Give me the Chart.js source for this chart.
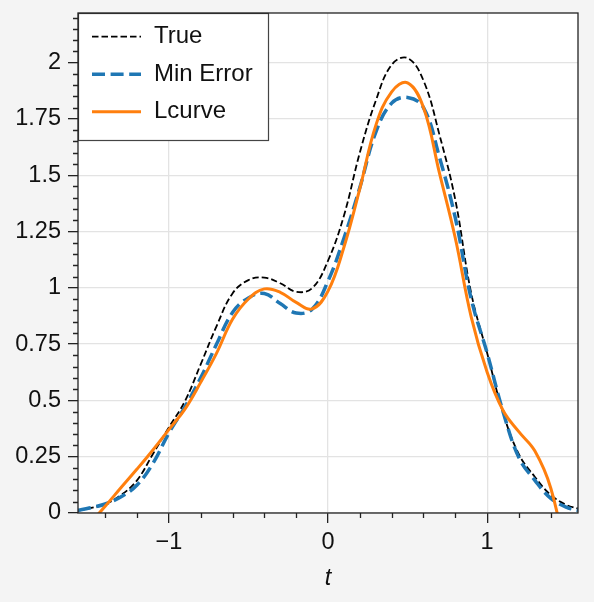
<!DOCTYPE html>
<html><head><meta charset="utf-8">
<script src="https://cdn.jsdelivr.net/npm/chart.js@4.4.1/dist/chart.umd.min.js"></script>
<style>html,body{margin:0;padding:0;background:#f4f4f4;overflow:hidden}</style>
</head><body>
<canvas id="c" width="594" height="602" style="display:block;width:594px;height:602px"></canvas>
<script>
// ---- data ----
const tValues       = [-1.5708, -1.5, -1.4, -1.3, -1.2, -1.1, -1.0, -0.9, -0.8, -0.7, -0.6, -0.5, -0.4, -0.3, -0.2, -0.1, 0.0, 0.1, 0.2, 0.3, 0.4, 0.5, 0.6, 0.7, 0.8, 0.9, 1.0, 1.1, 1.2, 1.3, 1.4, 1.5, 1.5708];
const trueValues    = [0.01, 0.02, 0.04, 0.08, 0.145, 0.262, 0.38, 0.495, 0.66, 0.83, 0.975, 1.034, 1.045, 1.02, 0.982, 0.998, 1.12, 1.32, 1.6, 1.83, 1.99, 2.02, 1.92, 1.68, 1.39, 0.975, 0.71, 0.445, 0.26, 0.16, 0.08, 0.035, 0.02];
const minErrValues  = [0.012, 0.022, 0.04, 0.072, 0.124, 0.22, 0.355, 0.47, 0.6, 0.75, 0.89, 0.955, 0.975, 0.93, 0.888, 0.905, 1.03, 1.22, 1.445, 1.69, 1.82, 1.845, 1.8, 1.58, 1.31, 0.95, 0.71, 0.45, 0.245, 0.145, 0.065, 0.025, 0.012];
const lcurveValues  = [-0.11, -0.05, 0.03, 0.113, 0.195, 0.28, 0.37, 0.46, 0.58, 0.71, 0.86, 0.95, 0.995, 0.98, 0.935, 0.906, 0.985, 1.18, 1.44, 1.72, 1.87, 1.91, 1.8, 1.51, 1.22, 0.87, 0.625, 0.455, 0.36, 0.275, 0.11, -0.2, -0.4];
const seriesLabels  = ['True', 'Min Error', 'Lcurve'];
const xTickValues   = [-1, 0, 1];
const yTickValues   = [0, 0.25, 0.5, 0.75, 1, 1.25, 1.5, 1.75, 2];
const xMinorTicks   = [-1.4, -1.2, -0.8, -0.6, -0.4, -0.2, 0.2, 0.4, 0.6, 0.8, 1.2, 1.4];
const yMinorStep    = 0.05;

const FONT = 'Liberation Sans, Arial, Helvetica, sans-serif';
const FS = 23.5;

function toPoints(vals){ return tValues.map((t,i)=>({x:t, y:vals[i]})); }

const bgPlugin = {
  id:'bg',
  beforeDraw(chart){
    const {ctx, chartArea:a} = chart;
    ctx.save();
    ctx.fillStyle = '#f4f4f4';
    ctx.fillRect(0,0,chart.width,chart.height);
    ctx.fillStyle = '#ffffff';
    ctx.fillRect(a.left,a.top,a.right-a.left,a.bottom-a.top);
    ctx.restore();
  }
};

const framePlugin = {
  id:'frame',
  afterDatasetsDraw(chart){
    const {ctx, chartArea:a, scales} = chart;
    ctx.save();
    // minor ticks
    ctx.strokeStyle = '#222';
    ctx.lineWidth = 1.3;
    ctx.beginPath();
    xMinorTicks.forEach(v=>{
      const px = Math.round(scales.x.getPixelForValue(v))+0.5;
      ctx.moveTo(px, a.bottom); ctx.lineTo(px, a.bottom+5);
    });
    for(let k=1;k*yMinorStep<=scales.y.max+1e-9;k++){
      const v = k*yMinorStep;
      if (Math.abs(v/0.25 - Math.round(v/0.25))<1e-6) continue;
      const py = Math.round(scales.y.getPixelForValue(v))+0.5;
      ctx.moveTo(a.left-5, py); ctx.lineTo(a.left, py);
    }
    ctx.stroke();
    // legend
    const lx = a.left, ly = a.top, lw = 190, lh = 127;
    ctx.fillStyle = '#ffffff';
    ctx.fillRect(lx, ly, lw, lh);
    ctx.strokeStyle = '#444';
    ctx.lineWidth = 1.2;
    ctx.strokeRect(lx+0.5, ly+0.5, lw, lh);
    const rows = [23.7, 61.3, 98.7];
    chart.data.datasets.forEach((ds,i)=>{
      const y = ly + rows[i];
      ctx.save();
      ctx.strokeStyle = ds.borderColor;
      ctx.lineWidth = ds.borderWidth;
      ctx.setLineDash(ds.borderDash || []);
      ctx.lineCap = 'butt';
      ctx.beginPath();
      ctx.moveTo(lx+14, y); ctx.lineTo(lx+63, y);
      ctx.stroke();
      ctx.restore();
      ctx.fillStyle = '#111';
      ctx.font = '24px ' + FONT;
      ctx.textBaseline = 'middle';
      ctx.textAlign = 'left';
      ctx.fillText(ds.label, lx+76, y);
    });
    // frame
    ctx.strokeStyle = '#222';
    ctx.lineWidth = 1.3;
    ctx.strokeRect(a.left, a.top, a.right-a.left, a.bottom-a.top);
    ctx.restore();
  }
};

const fmt = v => (v < 0 ? '\u2212' + Math.abs(v) : String(v));

new Chart(document.getElementById('c'), {
  type: 'line',
  data: {
    datasets: [
      { label: seriesLabels[0], data: toPoints(trueValues), borderColor: '#000000', borderWidth: 1.8, borderDash: [6.5, 3], order: 3 },
      { label: seriesLabels[1], data: toPoints(minErrValues), borderColor: '#1f77b4', borderWidth: 3.5, borderDash: [13, 5.6], order: 2 },
      { label: seriesLabels[2], data: toPoints(lcurveValues), borderColor: '#ff7f0e', borderWidth: 3, order: 1 }
    ]
  },
  options: {
    responsive: false,
    devicePixelRatio: 1,
    animation: false,
    layout: { padding: { left: 0, top: 13, right: 16, bottom: 0 } },
    elements: { point: { radius: 0 }, line: { tension: 0.4, fill: false, borderCapStyle: 'butt', borderJoinStyle: 'round' } },
    datasets: { line: { clip: 0 } },
    plugins: { legend: { display: false }, tooltip: { enabled: false } },
    scales: {
      x: {
        type: 'linear', min: -Math.PI/2, max: Math.PI/2,
        afterBuildTicks: s => { s.ticks = xTickValues.map(v=>({value:v})); },
        afterFit: s => { s.height = 89; s.paddingLeft = 0; s.paddingRight = 0; },
        ticks: { callback: fmt, font: { family: FONT, size: FS }, color: '#111', padding: 5, maxRotation: 0, autoSkip: false },
        grid: { color: '#e3e3e3', lineWidth: 1.3, tickColor: '#222', tickLength: 10, tickWidth: 1.3 },
        border: { display: false },
        title: { display: true, text: 't', font: { family: FONT, size: FS, style: 'italic' }, color: '#111', padding: { top: 0, bottom: 9 } }
      },
      y: {
        type: 'linear', min: 0, max: 2.22,
        afterBuildTicks: s => { s.ticks = yTickValues.map(v=>({value:v})); },
        afterFit: s => { s.width = 78; s.paddingTop = 0; s.paddingBottom = 0; },
        ticks: { callback: fmt, font: { family: FONT, size: FS }, color: '#111', padding: 7, autoSkip: false },
        grid: { color: '#e3e3e3', lineWidth: 1.3, tickColor: '#222', tickLength: 10, tickWidth: 1.3 },
        border: { display: false }
      }
    }
  },
  plugins: [bgPlugin, framePlugin]
});
</script>
</body></html>
